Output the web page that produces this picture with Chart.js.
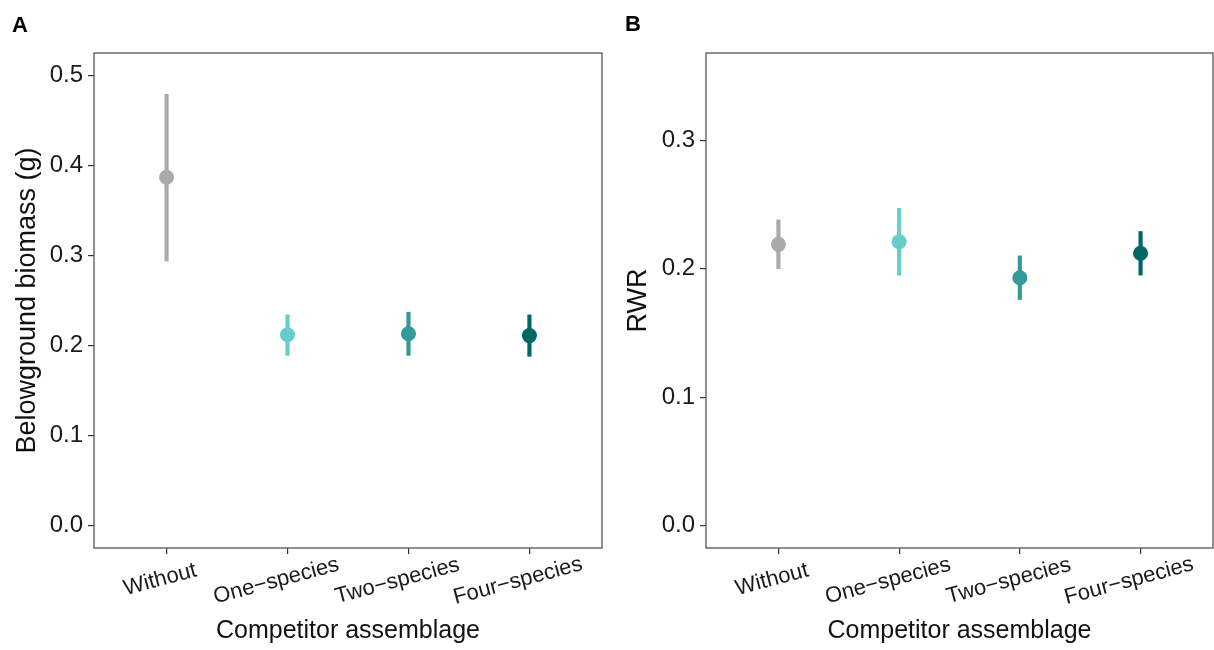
<!DOCTYPE html>
<html>
<head>
<meta charset="utf-8">
<script src="https://cdn.jsdelivr.net/npm/chart.js@4.4.1/dist/chart.umd.min.js"></script>
<style>
  html, body { margin: 0; padding: 0; background: #fff; }
  #wrap { position: relative; width: 1214px; height: 650px; font-family: 'Liberation Sans', Arial, sans-serif; }
  .panel { position: absolute; top: 0; height: 650px; }
  .tag { position: absolute; font-weight: bold; font-size: 22px; color: #000; }
</style>
</head>
<body>
<div id="wrap">
  <div class="panel" style="left:0;width:604px"><canvas id="chart-a"></canvas></div>
  <div class="panel" style="left:604px;width:610px"><canvas id="chart-b"></canvas></div>
  <div class="tag" style="left:12px;top:12px">A</div>
  <div class="tag" style="left:625px;top:11px">B</div>
</div>
<script>
const categories = ['Without', 'One−species', 'Two−species', 'Four−species'];
const COLORS     = ['#aaaaaa', '#66cccc', '#339999', '#006666'];

// panel A: belowground biomass (g)
const biomassMean = [0.387, 0.212, 0.213, 0.211];
const biomassLow  = [0.294, 0.189, 0.189, 0.188];
const biomassHigh = [0.479, 0.234, 0.237, 0.234];
const biomassTicks = [0, 0.1, 0.2, 0.3, 0.4, 0.5];

// panel B: RWR
const rwrMean = [0.219, 0.221, 0.193, 0.212];
const rwrLow  = [0.200, 0.195, 0.176, 0.195];
const rwrHigh = [0.238, 0.247, 0.210, 0.229];
const rwrTicks = [0, 0.1, 0.2, 0.3];

const FONT = "'Liberation Sans', Arial, sans-serif";

// box round the plot area, like ggplot's panel border
const boxPlugin = {
  id: 'box',
  afterDatasetsDraw(chart) {
    const { ctx, chartArea: a } = chart;
    ctx.save();
    ctx.strokeStyle = '#555';
    ctx.lineWidth = 1.3;
    ctx.strokeRect(a.left, a.top, a.right - a.left, a.bottom - a.top);
    ctx.restore();
  }
};

// x labels tilted 15deg, anchored a bit right of centre (ggplot hjust)
const xLabelPlugin = {
  id: 'xlabels',
  afterDraw(chart) {
    const { ctx } = chart;
    const sc = chart.scales.x;
    ctx.save();
    ctx.font = '22px ' + FONT;
    ctx.fillStyle = '#1a1a1a';
    ctx.textAlign = 'left';
    ctx.textBaseline = 'middle';
    sc.ticks.forEach(t => {
      const label = categories[t.value - 1];
      const w = ctx.measureText(label).width;
      ctx.save();
      ctx.translate(sc.getPixelForValue(t.value), sc.top + 30);
      ctx.rotate(-15 * Math.PI / 180);
      ctx.fillText(label, -0.59 * w, 0);
      ctx.restore();
    });
    ctx.restore();
  }
};

function makePanel(id, yTitle, mean, low, high, yTicks, yMin, yMax, axisW, padRight, titlePad) {
  const points = mean.map((v, i) => ({ x: i + 1, y: v }));
  const bars   = low.map((v, i) => ({ x: i + 1, y: [v, high[i]] }));

  return new Chart(document.getElementById(id), {
    type: 'scatter',
    data: {
      datasets: [
        {
          type: 'scatter',
          data: points,
          order: 0,
          pointRadius: 7.5,
          pointHoverRadius: 7.5,
          borderWidth: 0,
          backgroundColor: COLORS,
          pointBackgroundColor: COLORS,
        },
        {
          type: 'bar',
          data: bars,
          order: 1,
          barThickness: 3.5,
          borderWidth: 0,
          backgroundColor: COLORS,
        }
      ]
    },
    options: {
      responsive: true,
      maintainAspectRatio: false,
      animation: false,
      layout: { autoPadding: false, padding: { top: 53, right: padRight, bottom: 0, left: 0 } },
      plugins: { legend: { display: false }, tooltip: { enabled: false } },
      scales: {
        x: {
          type: 'linear',
          min: 0.4,
          max: 4.6,
          offset: false,
          afterBuildTicks: sc => { sc.ticks = categories.map((c, i) => ({ value: i + 1 })); },
          afterFit: sc => { sc.height = 102; },
          grid: { display: true, drawOnChartArea: false, drawTicks: true, tickLength: 6, color: '#333', lineWidth: 1.2, offset: false },
          border: { display: false },
          ticks: { display: false },
          title: {
            display: true,
            text: 'Competitor assemblage',
            color: '#111',
            font: { family: FONT, size: 25 },
            padding: { top: 0, bottom: 4 }
          }
        },
        y: {
          type: 'linear',
          min: yMin,
          max: yMax,
          afterBuildTicks: sc => { sc.ticks = yTicks.map(v => ({ value: v })); },
          afterFit: sc => { sc.width = axisW; },
          grid: { display: true, drawOnChartArea: false, drawTicks: true, tickLength: 6, color: '#333', lineWidth: 1.2 },
          border: { display: false },
          ticks: {
            padding: 5,
            color: '#1a1a1a',
            font: { family: FONT, size: 24 },
            callback: v => v.toFixed(1)
          },
          title: {
            display: true,
            text: yTitle,
            color: '#111',
            font: { family: FONT, size: 27 },
            padding: { top: titlePad, bottom: 0 }
          }
        }
      }
    },
    plugins: [boxPlugin, xLabelPlugin]
  });
}

makePanel('chart-a', 'Belowground biomass (g)', biomassMean, biomassLow, biomassHigh, biomassTicks, -0.025, 0.525, 94, 2, 11);
makePanel('chart-b', 'RWR', rwrMean, rwrLow, rwrHigh, rwrTicks, -0.0175, 0.368, 102, 1, 18);
</script>
</body>
</html>
